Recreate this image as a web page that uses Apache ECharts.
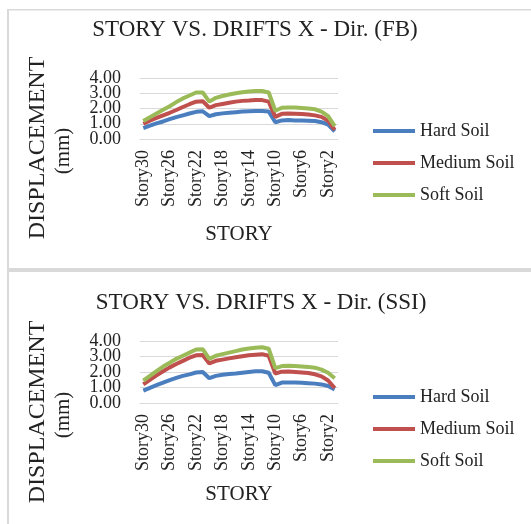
<!DOCTYPE html>
<html>
<head>
<meta charset="utf-8">
<script src="https://cdn.jsdelivr.net/npm/echarts@6/dist/echarts.min.js"></script>
<style>
  html, body { margin: 0; padding: 0; background: #fff; }
  #chart { width: 531px; height: 524px; }
</style>
</head>
<body>
<div id="chart"></div>
<script>
const stories = []
for (let i = 30; i >= 1; i--) stories.push('Story' + i)

const seriesNames = ['Hard Soil', 'Medium Soil', 'Soft Soil']
const colors = ['#4a7ebf', '#c0504d', '#9bbb59']
// labels split over two overlaid axes so none get dropped as overlapping
const yTicksEven = [0, 2, 4]
const yTicksOdd = [1, 3]

// FB case
const fbHard = [0.72, 0.88, 1.02, 1.15, 1.3, 1.43, 1.55, 1.67, 1.78, 1.82, 1.5, 1.62, 1.68, 1.72, 1.76, 1.8, 1.82, 1.83, 1.83, 1.8, 1.1, 1.22, 1.24, 1.22, 1.22, 1.2, 1.18, 1.1, 0.95, 0.5]
const fbMedium = [1.0, 1.2, 1.38, 1.55, 1.72, 1.9, 2.1, 2.28, 2.45, 2.48, 2.05, 2.22, 2.3, 2.38, 2.45, 2.5, 2.52, 2.55, 2.55, 2.45, 1.45, 1.65, 1.67, 1.66, 1.64, 1.6, 1.55, 1.45, 1.2, 0.6]
const fbSoft = [1.18, 1.43, 1.67, 1.92, 2.15, 2.42, 2.66, 2.85, 3.05, 3.05, 2.45, 2.7, 2.82, 2.92, 3.0, 3.07, 3.12, 3.15, 3.15, 3.05, 1.85, 2.05, 2.07, 2.06, 2.03, 2.0, 1.95, 1.8, 1.5, 0.85]

// SSI case
const ssiHard = [0.8, 0.98, 1.15, 1.32, 1.48, 1.62, 1.75, 1.85, 1.97, 2.0, 1.6, 1.75, 1.82, 1.87, 1.9, 1.95, 2.0, 2.05, 2.05, 1.95, 1.15, 1.32, 1.33, 1.32, 1.3, 1.28, 1.25, 1.2, 1.1, 0.88]
const ssiMedium = [1.2, 1.5, 1.78, 2.05, 2.3, 2.52, 2.72, 2.92, 3.08, 3.1, 2.55, 2.72, 2.8, 2.88, 2.95, 3.02, 3.08, 3.12, 3.15, 3.05, 1.9, 2.02, 2.03, 2.0, 1.97, 1.93, 1.85, 1.72, 1.45, 0.97]
const ssiSoft = [1.45, 1.75, 2.05, 2.35, 2.6, 2.85, 3.05, 3.25, 3.45, 3.47, 2.85, 3.05, 3.15, 3.25, 3.35, 3.45, 3.52, 3.57, 3.6, 3.5, 2.25, 2.38, 2.4, 2.38, 2.36, 2.33, 2.28, 2.15, 1.95, 1.6]

const titles = ['STORY VS. DRIFTS X - Dir. (FB)', 'STORY VS. DRIFTS X - Dir. (SSI)']

const FONT = 'Liberation Serif'
const TXT = '#222'
const GRIDC = '#d9d9d9'

const grids = [
  { left: 140, width: 198, top: 78, height: 61 },
  { left: 140, width: 198, top: 341, height: 62 }
]

function xAxis(i, gap) {
  return {
    type: 'category',
    gridIndex: i,
    data: stories,
    boundaryGap: true,
    axisLine: { lineStyle: { color: GRIDC } },
    axisTick: { show: false },
    axisLabel: {
      interval: 3,
      rotate: 90,
      margin: 11,
      fontFamily: FONT,
      fontSize: 18,
      color: TXT
    },
    name: 'STORY',
    nameLocation: 'middle',
    nameGap: gap,
    nameTextStyle: { fontFamily: FONT, fontSize: 21, color: TXT }
  }
}

function yAxis(i, ticks, withGrid) {
  return {
    type: 'value',
    gridIndex: i,
    position: 'left',
    min: 0,
    max: 4,
    interval: 1,
    axisLine: { show: false },
    axisTick: { show: false },
    splitLine: { show: withGrid, lineStyle: { color: GRIDC } },
    axisLabel: {
      margin: 19,
      fontFamily: FONT,
      fontSize: 18,
      color: TXT,
      customValues: ticks,
      hideOverlap: false,
      showMinLabel: true,
      showMaxLabel: true,
      formatter: v => v.toFixed(2)
    }
  }
}

function lines(i, yi, data) {
  return data.map((d, k) => ({
    name: seriesNames[k],
    type: 'line',
    xAxisIndex: i,
    yAxisIndex: yi,
    data: d,
    symbol: 'none',
    lineStyle: { width: 4, color: colors[k] },
    itemStyle: { color: colors[k] }
  }))
}

function legend(top) {
  return {
    orient: 'vertical',
    left: 368,
    top: top,
    data: seriesNames,
    icon: 'rect',
    itemWidth: 42,
    itemHeight: 4,
    itemGap: 14,
    textStyle: { fontFamily: FONT, fontSize: 18, color: TXT }
  }
}

function yName(cy) {
  return [
    {
      type: 'text', x: 38, y: cy, rotation: Math.PI / 2,
      style: { text: 'DISPLACEMENT', font: '24px "Liberation Serif"', fill: TXT, textAlign: 'center', textVerticalAlign: 'middle' }
    },
    {
      type: 'text', x: 63, y: cy + 3, rotation: Math.PI / 2,
      style: { text: '(mm)', font: '21px "Liberation Serif"', fill: TXT, textAlign: 'center', textVerticalAlign: 'middle' }
    }
  ]
}

const chart = echarts.init(document.getElementById('chart'))
chart.setOption({
  animation: false,
  backgroundColor: '#fff',
  title: [
    { text: titles[0], left: 250, top: 13, textAlign: 'center', textStyle: { fontFamily: FONT, fontSize: 23, fontWeight: 'normal', color: TXT } },
    { text: titles[1], left: 256, top: 286, textAlign: 'center', textStyle: { fontFamily: FONT, fontSize: 23, fontWeight: 'normal', color: TXT } }
  ],
  legend: [legend(117), legend(383)],
  grid: grids,
  xAxis: [xAxis(0, 85), xAxis(1, 81)],
  yAxis: [
    yAxis(0, yTicksEven, true), yAxis(0, yTicksOdd, false),
    yAxis(1, yTicksEven, true), yAxis(1, yTicksOdd, false)
  ],
  series: lines(0, 0, [fbHard, fbMedium, fbSoft]).concat(lines(1, 2, [ssiHard, ssiMedium, ssiSoft])),
  graphic: [
    { type: 'rect', shape: { x: 7, y: 9, width: 530, height: 1.5 }, style: { fill: GRIDC } },
    { type: 'rect', shape: { x: 7, y: 9, width: 2, height: 520 }, style: { fill: GRIDC } },
    { type: 'rect', shape: { x: 7, y: 268, width: 530, height: 4 }, style: { fill: GRIDC } }
  ].concat(yName(148), yName(412))
})
</script>
</body>
</html>
